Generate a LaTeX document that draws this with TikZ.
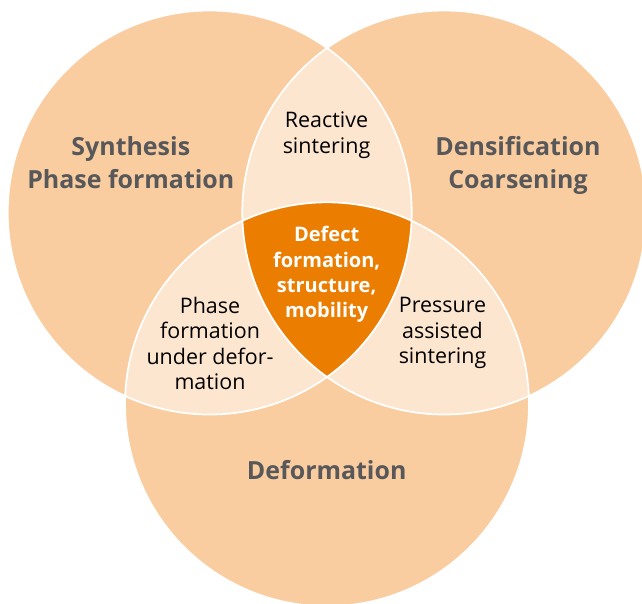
\documentclass[tikz,border=0pt]{standalone}
\usepackage{fontspec}
\setmainfont{Open Sans}
\usepackage{xcolor}
\usepackage{tikz}

\definecolor{peach}{RGB}{249,205,160}
\definecolor{pale}{RGB}{253,230,207}
\definecolor{core}{RGB}{235,125,0}
\definecolor{labelgrey}{RGB}{88,88,90}

\tikzset{
	bigLabel/.style={anchor=base, align=center, text=labelgrey, font=\fontsize{14.2}{18.9}\selectfont\bfseries},
	smallLabel/.style={anchor=base, align=center, text=black, font=\fontsize{12.2}{14.6}\selectfont},
	coreLabel/.style={anchor=base, align=center, text=white, font=\fontsize{11.4}{14.5}\selectfont\bfseries}
}

\begin{document}
\begin{tikzpicture}
	\pgfmathsetmacro{\radius}{4.04}
	\useasboundingbox (0,0) rectangle (12.84,12.06);
	\clip (0,0) rectangle (12.84,12.06);
	
	% Circle centres
	\coordinate (synth) at (4.194,7.81);
	\coordinate (dens) at (8.886,7.81);
	\coordinate (deform) at (6.54,3.974);
	
	% Outer circles
	\foreach \c in {synth,dens,deform} {
		\fill[peach] (\c) circle (\radius);
	}
	
	% Overlaps of two circles
	\begin{scope}
		\clip (synth) circle (\radius);
		\fill[pale] (dens) circle (\radius);
		\fill[pale] (deform) circle (\radius);
	\end{scope}
	\begin{scope}
		\clip (dens) circle (\radius);
		\fill[pale] (deform) circle (\radius);
	\end{scope}
	
	% Overlap of all three
	\begin{scope}
		\clip (synth) circle (\radius);
		\clip (dens) circle (\radius);
		\fill[core] (deform) circle (\radius);
	\end{scope}
	
	% White outlines
	\foreach \c in {synth,dens,deform} {
		\draw[white, line width=1pt] (\c) circle (\radius);
	}
	
	% Labels (anchored at the baseline of the last line)
	\node[bigLabel] (synthLabel) at (2.616,8.294) {Synthesis\\Phase formation};
	\node[bigLabel] (densLabel) at (10.36,8.28) {Densification\\Coarsening};
	\node[bigLabel] (deformLabel) at (6.534,2.46) {Deformation};
	\node[smallLabel] (reactLabel) at (6.53,8.994) {Reactive\\sintering};
	\node[smallLabel] (phaseLabel) at (4.2,4.26) {Phase\\formation\\under defor-\\mation};
	\node[smallLabel] (pressLabel) at (8.85,4.78) {Pressure\\assisted\\sintering};
	\node[coreLabel] (coreLabel) at (6.534,5.70) {Defect\\formation,\\structure,\\mobility};
\end{tikzpicture}
\end{document}
